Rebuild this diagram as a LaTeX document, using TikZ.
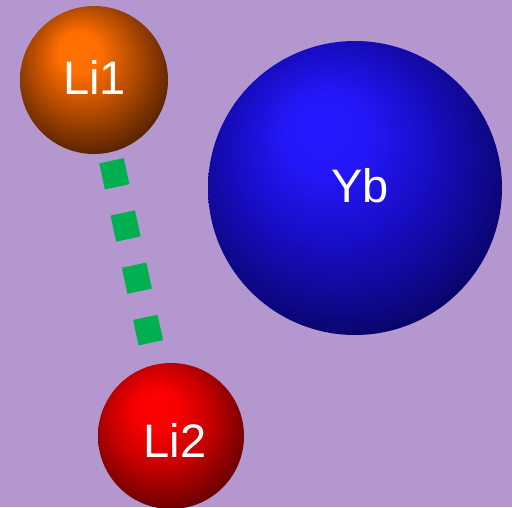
\documentclass[tikz,border=0pt]{standalone}
\usepackage{fontspec}
\setmainfont{Liberation Sans}
\usetikzlibrary{calc}

% lit spheres: bright upper left, dark lower right
% (the path box maps onto the inner 50bp of the shading)
\pgfdeclareradialshading{sphorange}{\pgfpoint{-6bp}{11bp}}{%
  rgb(0bp)=(1,0.45,0); rgb(7bp)=(1,0.43,0); rgb(17bp)=(0.72,0.3,0);
  rgb(26bp)=(0.45,0.18,0); rgb(32bp)=(0.26,0.1,0); rgb(38bp)=(0.08,0.02,0);
  rgb(45bp)=(0,0,0)}
\pgfdeclareradialshading{sphblue}{\pgfpoint{-6bp}{11bp}}{%
  rgb(0bp)=(0.15,0.1,1); rgb(7bp)=(0.14,0.09,0.97); rgb(17bp)=(0.09,0.05,0.76);
  rgb(26bp)=(0.05,0.03,0.52); rgb(32bp)=(0.02,0.01,0.33); rgb(38bp)=(0,0,0.12);
  rgb(45bp)=(0,0,0.04)}
\pgfdeclareradialshading{sphred}{\pgfpoint{-6bp}{11bp}}{%
  rgb(0bp)=(1,0,0); rgb(7bp)=(0.98,0,0); rgb(17bp)=(0.78,0,0);
  rgb(26bp)=(0.52,0,0); rgb(32bp)=(0.32,0,0); rgb(38bp)=(0.1,0,0);
  rgb(45bp)=(0.03,0,0)}

\definecolor{bgviolet}{HTML}{B497CF}
\definecolor{bondgreen}{HTML}{00B050}

\tikzset{
  atom/.style={circle, inner sep=0pt},
  atomname/.style={inner sep=0pt, text=white,
    font=\fontsize{47}{47}\selectfont},
  bond/.style={draw=bondgreen, line width=25pt,
    dash pattern=on 26.7pt off 26.7pt}
}

\begin{document}
\begin{tikzpicture}[x=1pt,y=-1pt]
  \fill[bgviolet] (0,0) rectangle (512,507);
  \useasboundingbox (0,0) rectangle (512,507);

  \node[atom, minimum size=148pt, shading=sphorange] (li1) at (94,80) {};
  \node[atom, minimum size=294pt, shading=sphblue] (yb) at (355,188) {};
  \node[atom, minimum size=146pt, shading=sphred] (li2) at (171,436) {};

  \node[atomname] (li1name) at ($(li1)+(0.5,-2.5)$) {Li1};
  \node[atomname] (ybname) at ($(yb)+(5,-2.5)$) {Yb};
  \node[atomname] (li2name) at ($(li2)+(4,4)$) {Li2};

  \draw[bond, shorten <=8.4pt, shorten >=22.2pt] (li1) -- (li2);
\end{tikzpicture}
\end{document}
